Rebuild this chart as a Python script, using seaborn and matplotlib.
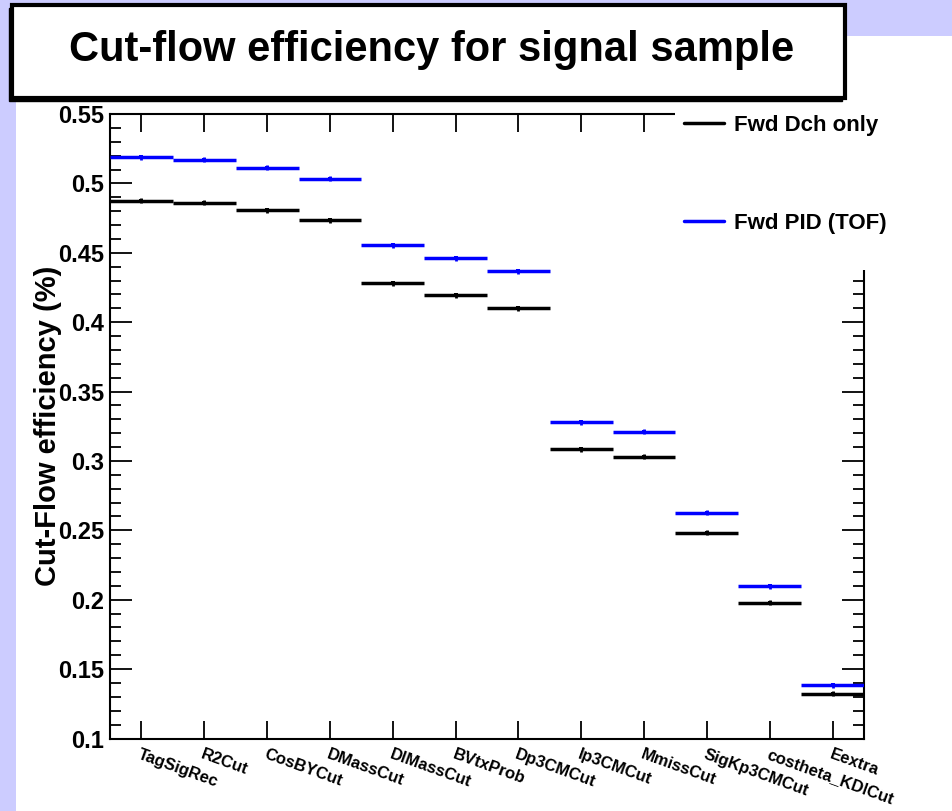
import numpy as np
import pandas as pd
import matplotlib
matplotlib.use("Agg")
import matplotlib.pyplot as plt
from matplotlib.patches import Rectangle
from matplotlib.lines import Line2D
from matplotlib.ticker import MultipleLocator, FixedLocator, FixedFormatter
import seaborn as sns

# ---------------- data ----------------
categories = ["TagSigRec", "R2Cut", "CosBYCut", "DMassCut", "DlMassCut", "BVtxProb",
              "Dp3CMCut", "Ip3CMCut", "MmissCut", "SigKp3CMCut", "costheta_KDlCut", "Eextra"]
fwd_dch_only = [0.4875, 0.4861, 0.4806, 0.4734, 0.4280, 0.4194,
                0.4102, 0.3086, 0.3031, 0.2483, 0.1979, 0.1323]
fwd_pid_tof = [0.5188, 0.5171, 0.5113, 0.5034, 0.4554, 0.4462,
               0.4367, 0.3278, 0.3211, 0.2627, 0.2097, 0.1383]
err_dch = [0.0018] * len(categories)
err_tof = [0.0018] * len(categories)
series_names = ["Fwd Dch only", "Fwd PID (TOF)"]
y_ticks = [0.1, 0.15, 0.2, 0.25, 0.3, 0.35, 0.4, 0.45, 0.5, 0.55]
y_ticklabels = ["0.1", "0.15", "0.2", "0.25", "0.3", "0.35", "0.4", "0.45", "0.5", "0.55"]

df = pd.DataFrame({
    "cut": categories * 2,
    "idx": list(range(len(categories))) * 2,
    "eff": fwd_dch_only + fwd_pid_tof,
    "err": err_dch + err_tof,
    "series": [series_names[0]] * len(categories) + [series_names[1]] * len(categories),
})

# ---------------- style ----------------
sns.set_style("ticks")
plt.rcParams["font.family"] = ["Liberation Sans", "DejaVu Sans"]
plt.rcParams["font.weight"] = "bold"
for k in ["text.color", "axes.labelcolor", "xtick.color", "ytick.color", "axes.edgecolor"]:
    plt.rcParams[k] = "black"

W, H = 953, 811
LAV = "#ccccff"
colors = {series_names[0]: "#000000", series_names[1]: "#0000ff"}

fig = plt.figure(figsize=(W / 100, H / 100), dpi=100)
fig.patch.set_facecolor(LAV)

def fx(px):
    return px / W

def fy(py):
    return 1 - py / H

# white canvas
fig.add_artist(Rectangle((fx(16), 0), 1 - fx(16), fy(36), transform=fig.transFigure,
                         facecolor="white", edgecolor="none", zorder=-10))

# axes
ax_l, ax_r, ax_t, ax_b = 110, 864, 114, 738.5
ax = fig.add_axes([fx(ax_l), fy(ax_b), fx(ax_r - ax_l), (ax_b - ax_t) / H])
ax.set_facecolor("white")

for name, sub in df.groupby("series", sort=False):
    c = colors[name]
    ax.hlines(sub["eff"], sub["idx"] - 0.5, sub["idx"] + 0.5, colors=c, lw=2.5, zorder=3)
    ax.errorbar(sub["idx"], sub["eff"], yerr=sub["err"], fmt="none", ecolor=c,
                elinewidth=2.0, capsize=0, zorder=4)
sns.scatterplot(data=df, x="idx", y="eff", hue="series", palette=colors, marker="s",
                s=8, linewidth=0, legend=False, ax=ax, zorder=5)

ax.set_xlim(-0.5, len(categories) - 0.5)
ax.set_ylim(0.1, 0.55)

# y axis
ax.yaxis.set_major_locator(FixedLocator(y_ticks))
ax.yaxis.set_major_formatter(FixedFormatter(y_ticklabels))
ax.yaxis.set_minor_locator(MultipleLocator(0.01))
ax.tick_params(axis="y", which="major", direction="in", length=16, width=1.3,
               labelsize=17, right=True, pad=4, colors="black")
ax.tick_params(axis="y", which="minor", direction="in", length=8, width=1.3, right=True,
               colors="black")

# x axis
ax.set_xticks(range(len(categories)))
ax.set_xticklabels(categories, rotation=-20, ha="left", va="top",
                   rotation_mode="anchor", fontsize=12, fontweight="bold")
ax.tick_params(axis="x", which="major", direction="in", length=13, width=1.3,
               top=True, pad=6, colors="black")
ax.tick_params(axis="x", which="minor", bottom=False, top=False)
for lab in ax.get_yticklabels():
    lab.set_fontweight("bold")

for sp in ax.spines.values():
    sp.set_linewidth(1.5)
    sp.set_color("black")

ax.set_xlabel("")
ax.set_ylabel("Cut-Flow efficiency (%)", fontsize=21, fontweight="bold", color="black")
ax.yaxis.label.set_va("center")
ax.yaxis.set_label_coords((48 - ax_l) / (ax_r - ax_l), 0.5)

# legend area (white patch covering axes corner)
fig.add_artist(Rectangle((fx(675), fy(270)), 1 - fx(675), fy(100) - fy(270),
                         transform=fig.transFigure, facecolor="white",
                         edgecolor="none", zorder=2))
handles = [Line2D([], [], color=colors[n], lw=2.5) for n in series_names]
leg = fig.legend(handles, series_names, loc="upper left",
                 bbox_to_anchor=(fx(673), fy(104)), frameon=False, borderpad=0,
                 handlelength=1.8, handletextpad=0.45, labelspacing=3.45,
                 prop={"size": 16, "weight": "bold", "family": ["Liberation Sans"]})
for t in leg.get_texts():
    t.set_color("black")
leg.set_zorder(6)

# title box with shadow
fig.add_artist(Rectangle((fx(9), fy(101)), fx(845 - 12), fy(5) - fy(98),
                         transform=fig.transFigure, facecolor="black",
                         edgecolor="black", zorder=7))
fig.add_artist(Rectangle((fx(12), fy(98)), fx(845 - 12), fy(5) - fy(98),
                         transform=fig.transFigure, facecolor="white",
                         edgecolor="black", lw=3, zorder=8))
fig.text(fx(432), fy(50), "Cut-flow efficiency for signal sample", ha="center",
         va="center", fontsize=30, fontweight="bold", color="black", zorder=9)

fig.savefig("out.png", dpi=100, facecolor=fig.get_facecolor())
